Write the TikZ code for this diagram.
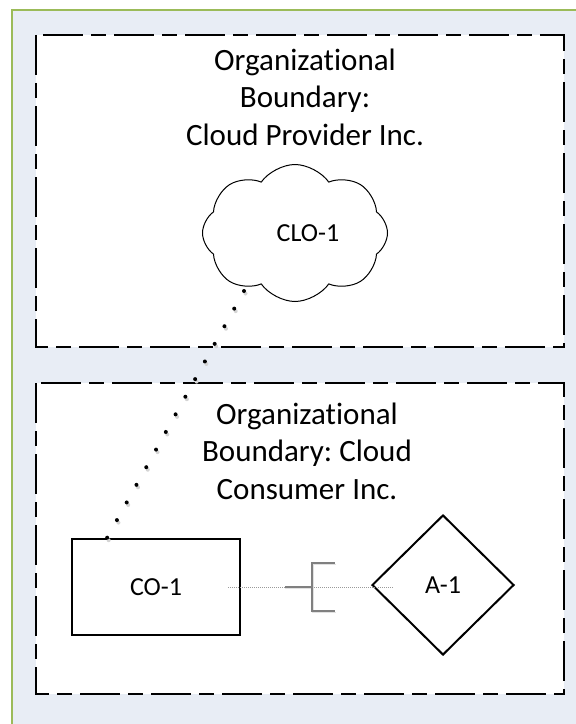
\documentclass[tikz,border=0pt]{standalone}
\usepackage{fontspec}
\setmainfont{Carlito}[Ligatures={NoCommon}]
\usetikzlibrary{shapes.symbols,shapes.geometric,calc}
\definecolor{bgfill}{HTML}{E8EDF5}
\definecolor{frame}{HTML}{9BBB59}
\definecolor{shadowgray}{HTML}{D4D4D4}
\definecolor{ifgray}{HTML}{808080}
\tikzset{
  boundary/.style={draw=black, fill=white, line width=2bp,
    dash pattern=on 40bp off 8bp on 15bp off 8bp},
  headtext/.style={align=center, font=\fontsize{31bp}{37.5bp}\selectfont\frenchspacing, inner sep=0pt},
  labeltext/.style={font=\fontsize{26bp}{31bp}\selectfont},
  dotline/.style={line width=4bp, line cap=round, dash pattern=on 0bp off 20.15bp},
  shape box/.style={draw=black, line width=2bp, fill=white},
}
\begin{document}
\begin{tikzpicture}[x=1bp,y=-1bp]
\useasboundingbox (0,0) rectangle (576,724);
\fill[white] (0,0) rectangle (576,724);
\fill[bgfill] (12,10) rectangle (576,724);
\draw[frame, line width=2bp] (12,724) -- (12,10) -- (576,10);

% boundaries
\draw[boundary] (36,35) rectangle (564,347);
\draw[boundary] (36,383) rectangle (564,694);

\node[headtext] (h1) at (305,97) {Organizational\\Boundary:\\Cloud Provider Inc.};
\node[headtext] (h2) at (307,451) {Organizational\\Boundary: Cloud\\Consumer Inc.};

% cloud
\node[cloud, draw=black, line width=1bp, fill=white, cloud puffs=8, cloud puff arc=110,
  aspect=1.35, minimum width=185bp, minimum height=137bp, inner sep=0pt,
  label={[labeltext, xshift=13bp]center:CLO-1}] (clo) at (295,233) {};

% CO-1 and A-1
\node[shape box, minimum width=168bp, minimum height=96bp, inner sep=0pt, labeltext] (co) at (156,587) {CO-1};
\node[diamond, shape box, minimum width=142bp, minimum height=140bp, inner sep=0pt, labeltext] (a1) at (443,585) {A-1};

% dotted connector cloud -> CO-1
\coordinate (p1) at ($(clo.center)+(-51,58)$);
\coordinate (p2) at ($(co.north west)+(36,0)$);
\draw[dotline, shadowgray] ($(p1)+(1.5,2.5)$) -- ($(p2)+(1.5,2.5)$);
\draw[dotline, black] (p1) -- (p2);

% interface connector
\coordinate (q1) at ($(co.east)+(-13,0)$);
\coordinate (q2) at ($(a1.west)+(23,2)$);
\coordinate (br) at (312,587);
\draw[ifgray!80, line width=0.8bp, dash pattern=on 1bp off 1bp] (q1) -- (q2);
\draw[shadowgray!70, line width=1.2bp] ($(br)+(-27,1.5)$) -- ($(br)+(1,1.5)$);
\draw[shadowgray!70, line width=1.2bp] ($(br)+(24,-22.5)$) -- ($(br)+(1,-22.5)$) -- ($(br)+(1,25.5)$) -- ($(br)+(24,25.5)$);
\draw[ifgray, line width=1.5bp] ($(br)+(-27,0)$) -- (br);
\draw[ifgray, line width=1.5bp] ($(br)+(23,-24)$) -- ($(br)+(0,-24)$) -- ($(br)+(0,24)$) -- ($(br)+(23,24)$);
\end{tikzpicture}
\end{document}
